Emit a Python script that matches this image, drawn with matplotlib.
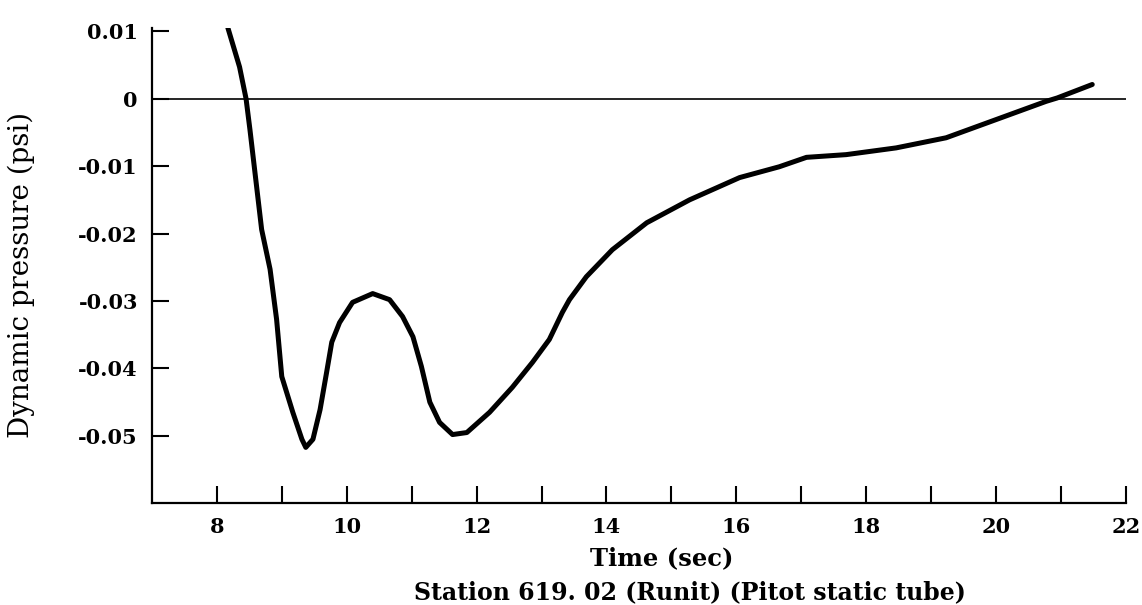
import matplotlib.pyplot as plt

# values
time_sec = [8.17, 8.35, 8.45, 8.51, 8.69, 8.82, 8.92, 9.0, 9.17, 9.31, 9.37, 9.48,
            9.59, 9.69, 9.77, 9.89, 10.09, 10.4, 10.66, 10.86, 11.02, 11.15, 11.28,
            11.43, 11.63, 11.85, 12.2, 12.55, 12.86, 13.12, 13.32, 13.43, 13.69,
            14.09, 14.62, 15.28, 16.05, 16.66, 17.08, 17.69, 18.46, 19.23, 20.0,
            20.77, 20.94, 21.48]
pressure = [0.0105, 0.0047, 0.0, -0.0046, -0.0194, -0.0253, -0.0327, -0.0412,
            -0.0465, -0.0505, -0.0517, -0.0505, -0.0461, -0.0406, -0.0361, -0.0332,
            -0.0302, -0.0289, -0.0298, -0.0323, -0.0353, -0.0397, -0.045, -0.048,
            -0.0498, -0.0495, -0.0465, -0.0428, -0.0391, -0.0357, -0.0317, -0.0298,
            -0.0264, -0.0224, -0.0184, -0.015, -0.0117, -0.0101, -0.0087, -0.0083,
            -0.0073, -0.0058, -0.0031, -0.0004, 0.0001, 0.0021]

x_ticks = [8, 10, 12, 14, 16, 18, 20, 22]
x_minor = [9, 11, 13, 15, 17, 19, 21]
y_ticks = [0.01, 0, -0.01, -0.02, -0.03, -0.04, -0.05]
y_labels = ['0.01', '0', '-0.01', '-0.02', '-0.03', '-0.04', '-0.05']

plt.rcParams['font.family'] = ['DejaVu Serif']

fig = plt.figure(figsize=(11.42, 6.05), dpi=100)
ax = fig.add_axes([0.133, 0.168, 0.853, 0.786])

ax.axhline(0, color='black', lw=1.2)
ax.plot(time_sec, pressure, color='black', lw=3.6, solid_joinstyle='round',
        solid_capstyle='round')

ax.set_xlim(7, 22)
ax.set_ylim(-0.06, 0.0105)

for side in ['top', 'right']:
    ax.spines[side].set_visible(False)
for side in ['left', 'bottom']:
    ax.spines[side].set_linewidth(1.6)

ax.set_xticks(x_ticks)
ax.set_xticks(x_minor, minor=True)
ax.set_yticks(y_ticks)
ax.set_yticklabels(y_labels)
ax.tick_params(which='both', direction='in', length=12, width=1.5, labelsize=15, pad=10)
for lbl in ax.get_xticklabels() + ax.get_yticklabels():
    lbl.set_fontweight('bold')

fig.text(0.579, 0.066, 'Time (sec)', ha='center', va='baseline',
         fontsize=17.5, fontweight='bold')
fig.text(0.604, 0.009, 'Station 619. 02 (Runit) (Pitot static tube)', ha='center',
         va='baseline', fontsize=17, fontweight='bold')
fig.text(0.019, 0.545, 'Dynamic pressure (psi)', rotation=90, ha='center',
         va='center', fontsize=20)

fig.savefig('out.png', dpi=100)
